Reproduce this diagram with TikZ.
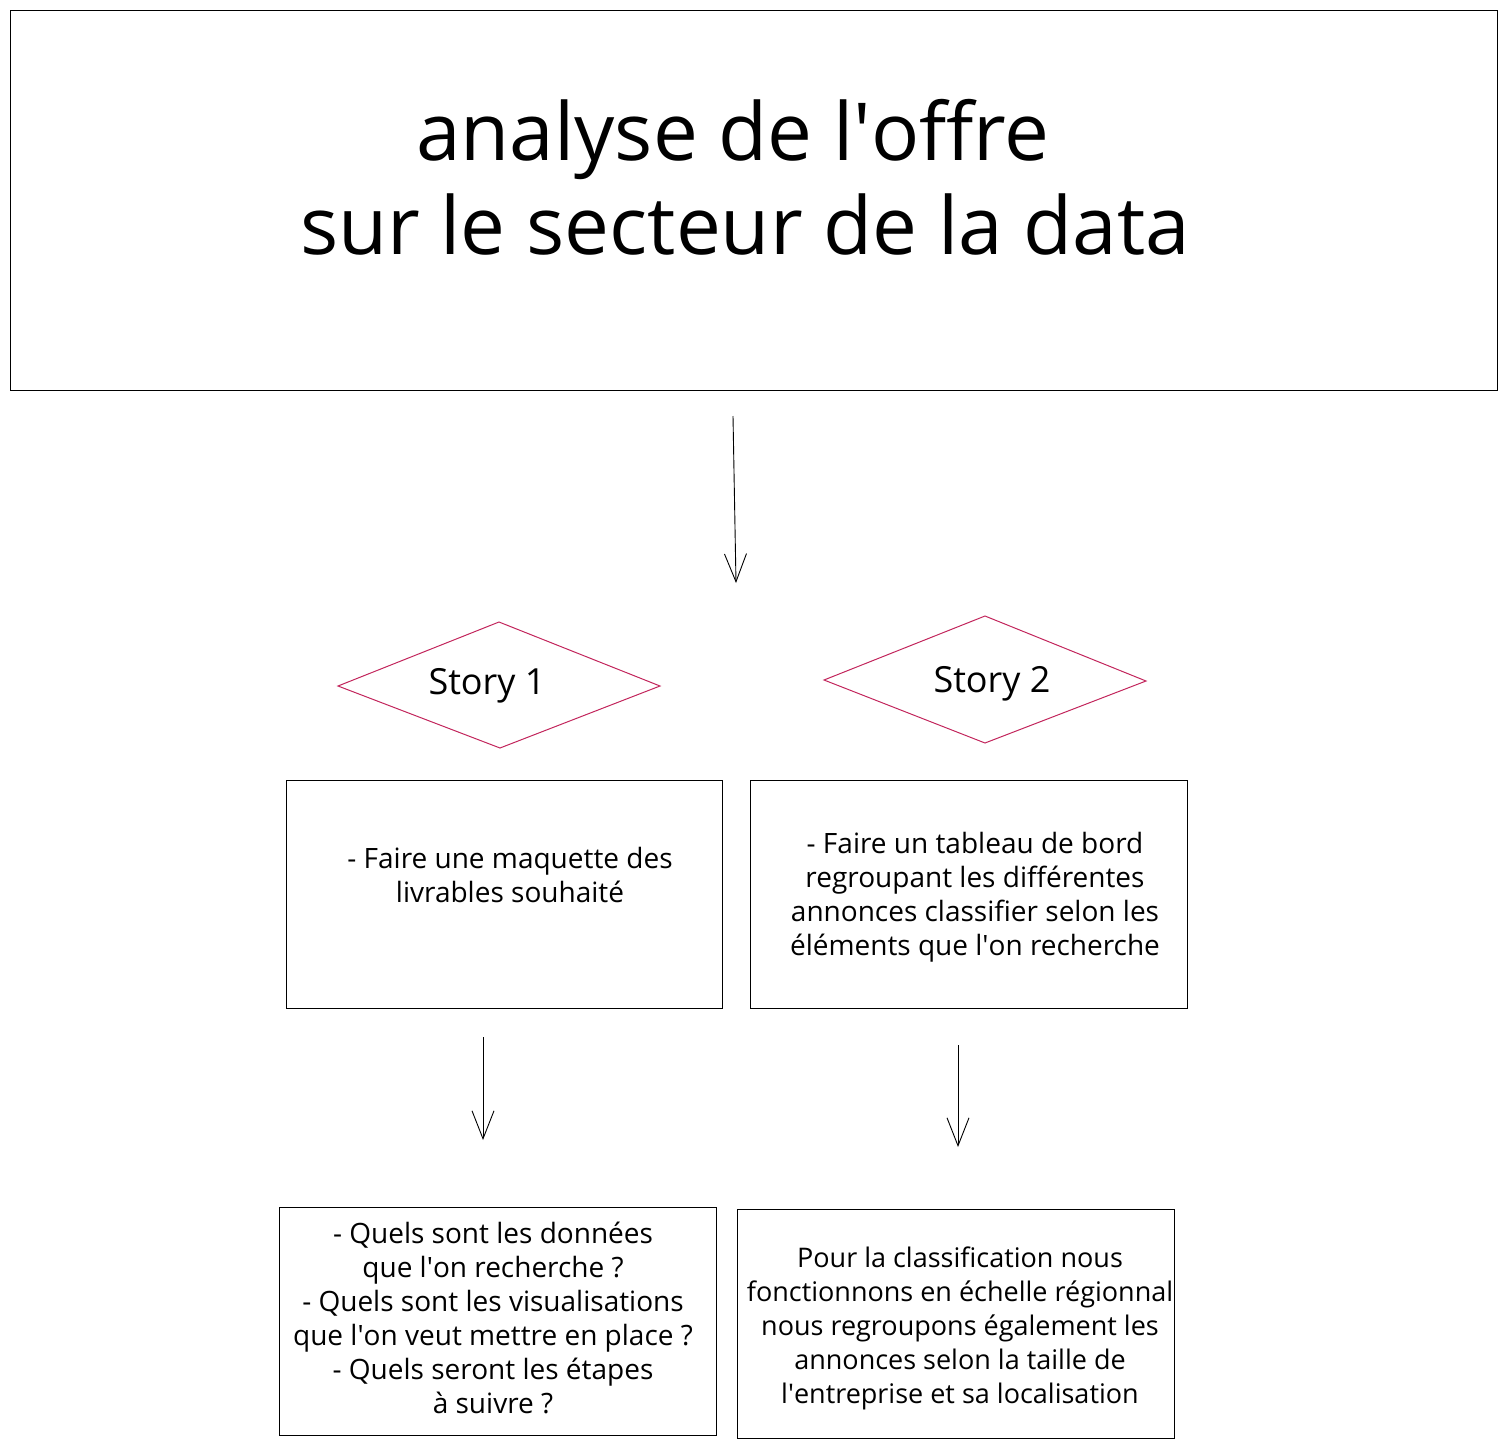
\documentclass[tikz,border=0pt]{standalone}
\usepackage{fontspec}
\setmainfont{Open Sans}
\usetikzlibrary{arrows.meta}
\definecolor{storyred}{HTML}{C2255C}
\newcommand{\ap}{\textquotesingle}
\tikzset{
  txt/.style={align=center, font=\fontsize{28}{34}\selectfont, inner sep=0pt},
  story/.style={draw=storyred, line width=1pt},
  flow/.style={draw=black, line width=0.9pt, -{Straight Barb[length=28pt,width=22pt,line width=0.9pt]}}
}
\begin{document}
\begin{tikzpicture}[x=1pt,y=-1pt]
\useasboundingbox (0,0) rectangle (1507,1448);
% title box
\draw[line width=0.9pt] (10,10) rectangle (1497,390);
\node[inner sep=0pt] (t1) at (733,140) {\fontsize{80}{90}\selectfont analyse de l\ap offre};
\node[inner sep=0pt] (t2) at (745,224) {\fontsize{80}{90}\selectfont sur le secteur de la data};
\coordinate (a1s) at (733,416);
\coordinate (a1e) at (736,583);
\draw[flow] (a1s) -- (a1e);
% diamonds
\coordinate (d1l) at (338,686); \coordinate (d1t) at (499,622);
\coordinate (d1r) at (660,686); \coordinate (d1b) at (500,748);
\draw[story] (d1l) -- (d1t) -- (d1r) -- (d1b) -- cycle;
\node[inner sep=0pt] (s1) at (487,686) {\fontsize{36}{40}\selectfont Story 1};
\coordinate (d2l) at (824,680); \coordinate (d2t) at (985,616);
\coordinate (d2r) at (1146,681); \coordinate (d2b) at (985,743);
\draw[story] (d2l) -- (d2t) -- (d2r) -- (d2b) -- cycle;
\node[inner sep=0pt] (s2) at (992,684) {\fontsize{36}{40}\selectfont Story 2};
% middle boxes
\draw[line width=0.9pt] (286,780) rectangle (722,1008);
\node[txt] (b3) at (510,875) {- Faire une maquette des\\livrables souhaité};
\draw[line width=0.9pt] (750,780) rectangle (1187,1008);
\node[txt] (b4) at (975,897) {- Faire un tableau de bord\\regroupant les différentes\\annonces classifier selon les\\éléments que l\ap on recherche};
% arrows
\coordinate (a2s) at (483,1037); \coordinate (a2e) at (483,1140);
\draw[flow] (a2s) -- (a2e);
\coordinate (a3s) at (958,1045); \coordinate (a3e) at (958,1147);
\draw[flow] (a3s) -- (a3e);
% bottom boxes
\draw[line width=0.9pt] (279,1207) rectangle (716,1435);
\node[txt] (b5) at (493,1318) {- Quels sont les données\\que l\ap on recherche ?\\- Quels sont les visualisations\\que l\ap on veut mettre en place ?\\- Quels seront les étapes\\à suivre ?};
\draw[line width=0.9pt] (737,1209) rectangle (1174,1438);
\node[txt, font=\fontsize{27}{34}\selectfont] (b6) at (960,1328) {Pour la classification nous\\fonctionnons en échelle régionnal\\nous regroupons également les\\annonces selon la taille de\\l\ap entreprise et sa localisation};
\end{tikzpicture}
\end{document}
